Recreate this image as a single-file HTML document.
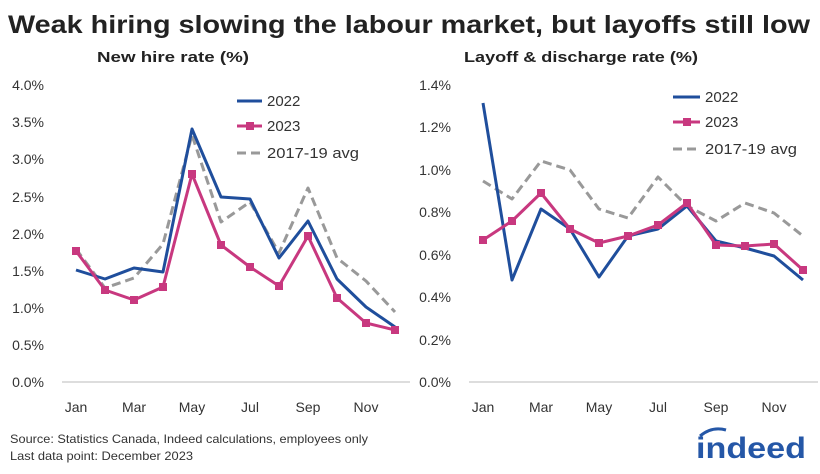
<!DOCTYPE html>
<html><head><meta charset="utf-8"><style>
body{margin:0;background:#fff;}
svg{display:block;font-family:"Liberation Sans",sans-serif;}
</style></head><body>
<svg width="820" height="474" viewBox="0 0 820 474">
<text x="8" y="33" font-size="25" font-weight="bold" fill="#222" textLength="802" lengthAdjust="spacingAndGlyphs">Weak hiring slowing the labour market, but layoffs still low</text>
<text x="97" y="62" font-size="15" font-weight="bold" fill="#222" textLength="152" lengthAdjust="spacingAndGlyphs">New hire rate (%)</text>
<text x="464" y="62" font-size="15" font-weight="bold" fill="#222" textLength="234" lengthAdjust="spacingAndGlyphs">Layoff &amp; discharge rate (%)</text>
<g font-size="14" fill="#333" text-anchor="end">
<text x="44" y="90">4.0%</text><text x="44" y="127">3.5%</text><text x="44" y="164">3.0%</text><text x="44" y="202">2.5%</text><text x="44" y="239">2.0%</text><text x="44" y="276">1.5%</text><text x="44" y="313">1.0%</text><text x="44" y="350">0.5%</text><text x="44" y="387">0.0%</text>
<text x="451" y="90">1.4%</text><text x="451" y="132">1.2%</text><text x="451" y="175">1.0%</text><text x="451" y="217">0.8%</text><text x="451" y="260">0.6%</text><text x="451" y="302">0.4%</text><text x="451" y="345">0.2%</text><text x="451" y="387">0.0%</text>
</g>
<g font-size="14" fill="#333" text-anchor="middle">
<text x="76" y="412">Jan</text><text x="134" y="412">Mar</text><text x="192" y="412">May</text><text x="250" y="412">Jul</text><text x="308" y="412">Sep</text><text x="366" y="412">Nov</text>
<text x="483" y="412">Jan</text><text x="541" y="412">Mar</text><text x="599" y="412">May</text><text x="658" y="412">Jul</text><text x="716" y="412">Sep</text><text x="774" y="412">Nov</text>
</g>
<line x1="62" y1="382" x2="410" y2="382" stroke="#bbb"/>
<line x1="469" y1="382" x2="818" y2="382" stroke="#bbb"/>
<g fill="none" stroke-width="3" stroke-linejoin="round">
<polyline stroke="#999" stroke-dasharray="9,5" points="76,249 105,288 134,278 163,244 192,135 221,222 250,202 279,253 308,188 337,258 366,281 395,312"/>
<polyline stroke="#1f4e9c" points="76,270 105,279 134,268 163,272 192,129 221,197 250,199 279,258 308,221 337,279 366,307 395,327"/>
<polyline stroke="#c8387f" points="76,251 105,290 134,300 163,287 192,174 221,245 250,267 279,286 308,236 337,298 366,323 395,330"/>
<polyline stroke="#999" stroke-dasharray="9,5" points="483,181 512,199 541,161 570,170 599,209 628,218 658,177 687,206 716,221 745,203 774,213 803,236"/>
<polyline stroke="#1f4e9c" points="483,103 512,280 541,209 570,229 599,277 628,236 658,229 687,206 716,241 745,248 774,256 803,280"/>
<polyline stroke="#c8387f" points="483,240 512,221 541,193 570,229 599,243 628,236 658,225 687,203 716,245 745,246 774,244 803,270"/>
</g>
<g fill="#c8387f">
<rect x="72" y="247" width="8" height="8"/><rect x="101" y="286" width="8" height="8"/><rect x="130" y="296" width="8" height="8"/><rect x="159" y="283" width="8" height="8"/><rect x="188" y="170" width="8" height="8"/><rect x="217" y="241" width="8" height="8"/><rect x="246" y="263" width="8" height="8"/><rect x="275" y="282" width="8" height="8"/><rect x="304" y="232" width="8" height="8"/><rect x="333" y="294" width="8" height="8"/><rect x="362" y="319" width="8" height="8"/><rect x="391" y="326" width="8" height="8"/>
<rect x="479" y="236" width="8" height="8"/><rect x="508" y="217" width="8" height="8"/><rect x="537" y="189" width="8" height="8"/><rect x="566" y="225" width="8" height="8"/><rect x="595" y="239" width="8" height="8"/><rect x="624" y="232" width="8" height="8"/><rect x="654" y="221" width="8" height="8"/><rect x="683" y="199" width="8" height="8"/><rect x="712" y="241" width="8" height="8"/><rect x="741" y="242" width="8" height="8"/><rect x="770" y="240" width="8" height="8"/><rect x="799" y="266" width="8" height="8"/>
</g>
<g stroke-width="3">
<line x1="237" y1="101" x2="262" y2="101" stroke="#1f4e9c"/>
<line x1="237" y1="126" x2="262" y2="126" stroke="#c8387f"/>
<line x1="237" y1="153" x2="262" y2="153" stroke="#999" stroke-dasharray="9,5"/>
<line x1="673" y1="97" x2="700" y2="97" stroke="#1f4e9c"/>
<line x1="673" y1="122" x2="700" y2="122" stroke="#c8387f"/>
<line x1="673" y1="149" x2="700" y2="149" stroke="#999" stroke-dasharray="9,5"/>
</g>
<rect x="246" y="122" width="8" height="8" fill="#c8387f"/>
<rect x="683" y="118" width="8" height="8" fill="#c8387f"/>
<g font-size="15" fill="#333">
<text x="267" y="106">2022</text><text x="267" y="131">2023</text><text x="267" y="158" textLength="92" lengthAdjust="spacingAndGlyphs">2017-19 avg</text>
<text x="705" y="102">2022</text><text x="705" y="127">2023</text><text x="705" y="154" textLength="92" lengthAdjust="spacingAndGlyphs">2017-19 avg</text>
</g>
<text x="10" y="443" font-size="12" fill="#333" textLength="358" lengthAdjust="spacingAndGlyphs">Source: Statistics Canada, Indeed calculations, employees only</text>
<text x="10" y="460" font-size="12" fill="#333" textLength="183" lengthAdjust="spacingAndGlyphs">Last data point: December 2023</text>
<text x="696" y="458" font-size="30" font-weight="bold" fill="#2557a7" textLength="110" lengthAdjust="spacingAndGlyphs">indeed</text>
<path d="M700 436 q12 -10 26 -6" stroke="#2557a7" stroke-width="3" fill="none"/>
</svg>
</body></html>
